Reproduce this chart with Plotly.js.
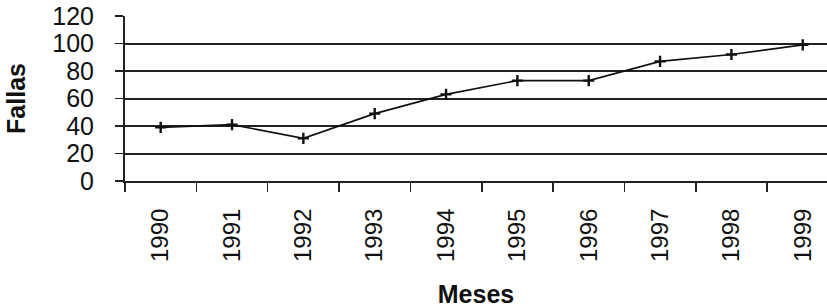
<!DOCTYPE html>
<html>
<head>
<meta charset="utf-8">
<script src="https://cdn.plot.ly/plotly-3.0.1.min.js"></script>
<style>html,body{margin:0;padding:0;background:#fff;overflow:hidden}#chart{width:827px;height:308px}</style>
</head>
<body>
<div id="chart"></div>
<script>
const years = ['1990','1991','1992','1993','1994','1995','1996','1997','1998','1999'];
const fallas = [39, 41, 31, 49, 63, 73, 73, 87, 92, 99];
const yTicks = [0, 20, 40, 60, 80, 100, 120];
const xTitle = 'Meses';
const yTitle = 'Fallas';

const FONT = '"Liberation Sans", Arial, sans-serif';

const trace = {
  x: years,
  y: fallas,
  type: 'scatter',
  mode: 'lines+markers',
  line: {color: '#111', width: 1.6},
  marker: {symbol: 'cross-thin', size: 8, color: '#111', line: {color: '#111', width: 2.4}},
  hoverinfo: 'x+y'
};

const layout = {
  width: 827,
  height: 308,
  margin: {l: 125, r: 0, t: 16, b: 127},
  paper_bgcolor: '#fff',
  plot_bgcolor: '#fff',
  showlegend: false,
  font: {family: FONT, color: '#111'},
  xaxis: {
    type: 'category',
    range: [-0.5, 9.34],
    tickson: 'boundaries',
    ticks: 'outside',
    ticklen: 9,
    tickwidth: 1.6,
    tickcolor: '#222',
    tickangle: -90,
    tickfont: {family: FONT, size: 24, color: '#111'},
    ticklabelstandoff: 16,
    showgrid: false,
    showline: true,
    linecolor: '#222',
    linewidth: 2,
    zeroline: false,
    title: {text: xTitle, font: {family: FONT, size: 25, color: '#111', weight: 'bold'}, standoff: 25}
  },
  yaxis: {
    range: [0, 120],
    tickvals: yTicks,
    ticktext: yTicks.map(String),
    ticks: 'outside',
    ticklen: 8,
    tickwidth: 1.6,
    tickcolor: '#222',
    tickfont: {family: FONT, size: 25, color: '#111'},
    ticklabelstandoff: 16,
    showgrid: true,
    gridcolor: '#222',
    gridwidth: 2,
    showline: true,
    linecolor: '#222',
    linewidth: 2,
    zeroline: false,
    title: {text: yTitle, font: {family: FONT, size: 25, color: '#111', weight: 'bold'}, standoff: 20}
  }
};

Plotly.newPlot('chart', [trace], layout, {displayModeBar: false, staticPlot: true});
</script>
</body>
</html>
